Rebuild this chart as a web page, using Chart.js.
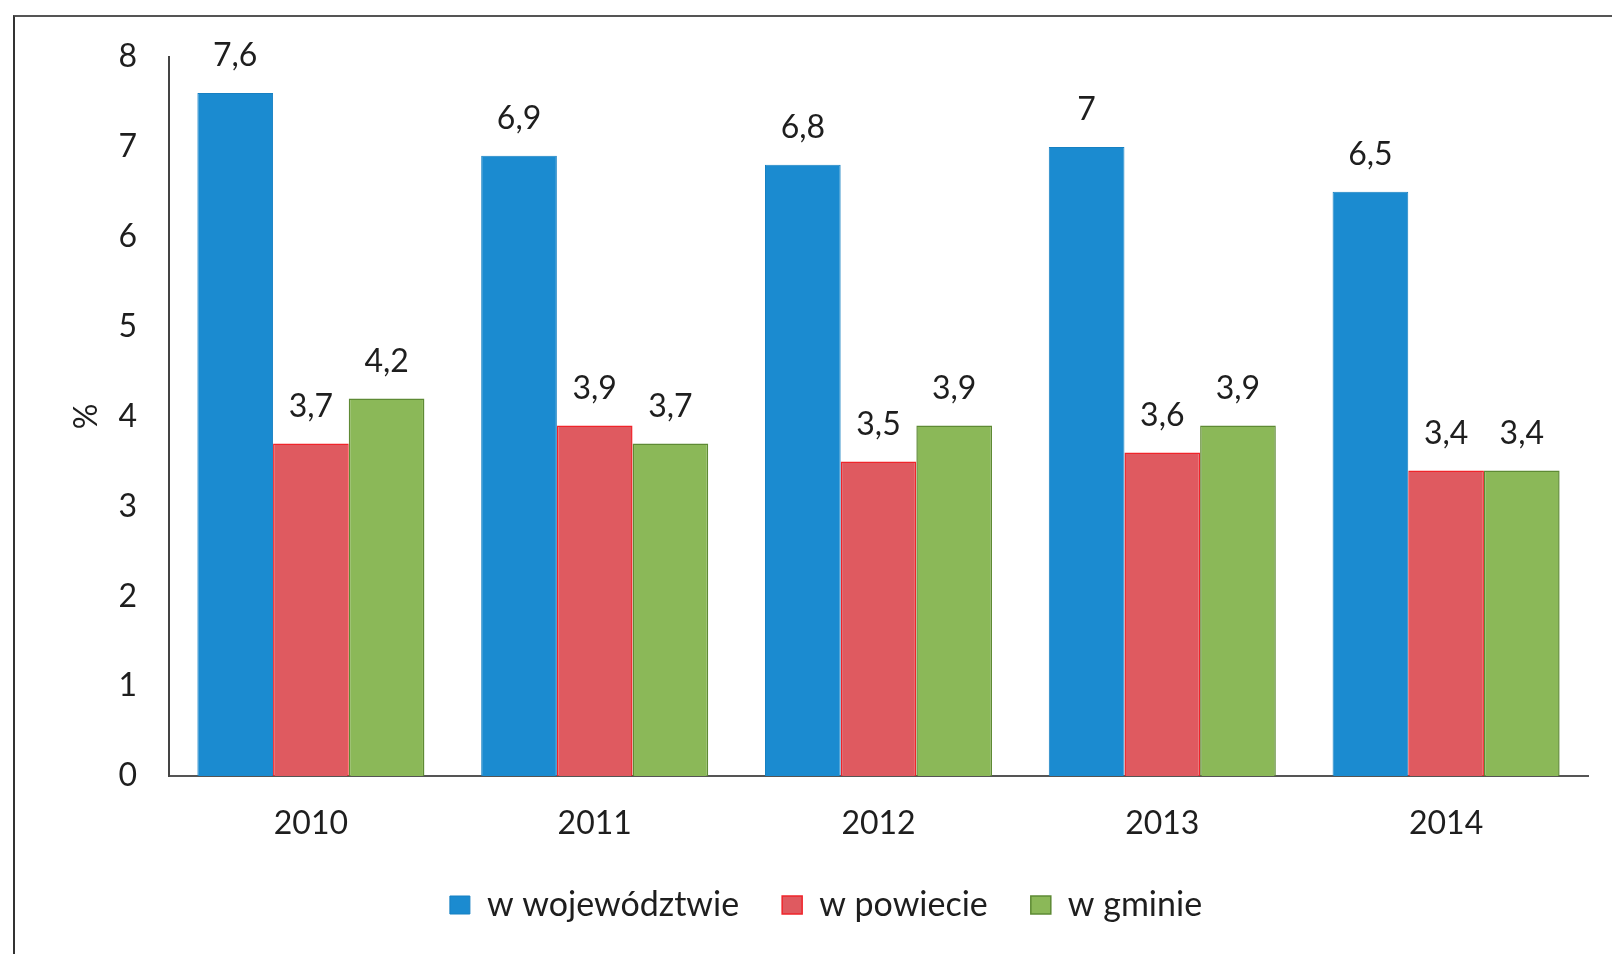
<!DOCTYPE html>
<html>
<head>
<meta charset="utf-8">
<script src="https://cdn.jsdelivr.net/npm/chart.js@4/dist/chart.umd.min.js"></script>
<style>
  html, body { margin: 0; padding: 0; background: #fff; }
  #wrap { position: relative; width: 1612px; height: 954px; overflow: hidden; }
  #frame { position: absolute; left: 13px; top: 15px; width: 1700px; height: 1000px;
           border-left: 2px solid #333; border-top: 2px solid #555; pointer-events: none; }
  canvas { position: absolute; left: 0; top: 0; }
</style>
</head>
<body>
<div id="wrap">
  <canvas id="c" width="1612" height="954"></canvas>
  <div id="frame"></div>
</div>
<script>
const categories = ['2010', '2011', '2012', '2013', '2014'];
const seriesNames = ['w województwie', 'w powiecie', 'w gminie'];
const wojewodztwo = [7.6, 6.9, 6.8, 7, 6.5];
const powiat = [3.7, 3.9, 3.5, 3.6, 3.4];
const gmina = [4.2, 3.7, 3.9, 3.9, 3.4];
const yTicks = [0, 1, 2, 3, 4, 5, 6, 7, 8];

const FONT = 'Lato, "Open Sans", sans-serif';
const TEXT = '#1e1e1e';

const valueLabels = {
  id: 'valueLabels',
  afterDatasetsDraw(chart) {
    const ctx = chart.ctx;
    ctx.save();
    ctx.font = '32px ' + FONT;
    ctx.fillStyle = TEXT;
    ctx.textAlign = 'center';
    ctx.textBaseline = 'middle';
    chart.data.datasets.forEach((ds, i) => {
      const meta = chart.getDatasetMeta(i);
      meta.data.forEach((bar, j) => {
        const txt = String(ds.data[j]).replace('.', ',');
        ctx.fillText(txt, bar.x, bar.y - 37);
      });
    });
    ctx.restore();
  }
};

const legendShift = {
  id: 'legendShift',
  afterLayout(chart) {
    const lg = chart.legend;
    if (!lg) return;
    lg.left += 32;
    lg.right += 32;
  }
};

new Chart(document.getElementById('c'), {
  type: 'bar',
  data: {
    labels: categories,
    datasets: [
      { label: seriesNames[0], data: wojewodztwo, backgroundColor: '#1b8bd0', borderColor: '#1780c2', borderWidth: 1 },
      { label: seriesNames[1], data: powiat, backgroundColor: '#df5a60', borderColor: '#f0242a', borderWidth: 1.5 },
      { label: seriesNames[2], data: gmina, backgroundColor: '#8bb858', borderColor: '#5e8a34', borderWidth: 1.5 }
    ]
  },
  options: {
    responsive: false,
    animation: false,
    devicePixelRatio: 1,
    layout: { padding: { left: 0, right: 24, top: 57, bottom: 22 } },
    datasets: { bar: { categoryPercentage: 0.8, barPercentage: 1.0 } },
    plugins: {
      legend: {
        position: 'bottom',
        labels: {
          font: { family: FONT, size: 34 },
          color: TEXT,
          boxWidth: 20,
          boxHeight: 18,
          padding: 43
        }
      },
      tooltip: { enabled: false }
    },
    scales: {
      x: {
        afterFit(scale) { scale.height = 69; },
        grid: { display: false, drawTicks: false },
        border: { display: true, color: '#555', width: 2 },
        ticks: { font: { family: FONT, size: 32 }, color: TEXT, padding: 28 }
      },
      y: {
        min: 0, max: 8,
        afterBuildTicks(scale) { scale.ticks = yTicks.map(v => ({ value: v })); },
        afterFit(scale) { scale.width = 169; },
        grid: { display: false, drawTicks: false },
        border: { display: true, color: '#444', width: 2 },
        ticks: { font: { family: FONT, size: 32 }, color: TEXT, padding: 32 },
        title: {
          display: true, text: '%',
          font: { family: FONT, size: 32 }, color: TEXT,
          padding: { top: 67, bottom: 0 }
        }
      }
    }
  },
  plugins: [valueLabels, legendShift]
});
</script>
</body>
</html>
